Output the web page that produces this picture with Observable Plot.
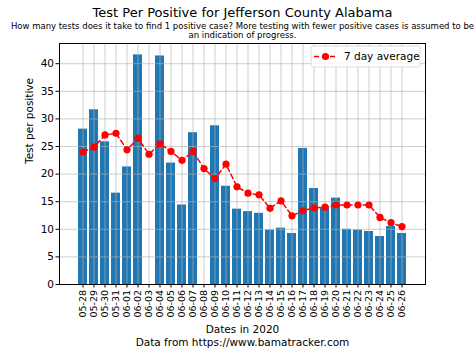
<!DOCTYPE html>
<html>
<head>
<meta charset="utf-8">
<script src="https://cdn.jsdelivr.net/npm/d3@7"></script>
<script src="https://cdn.jsdelivr.net/npm/@observablehq/plot@0.6"></script>
<style>
  html, body { margin: 0; padding: 0; background: #fff; }
  #chart svg { display: block; }
</style>
</head>
<body>
<div id="chart"></div>
<script>
const titleText = "Test Per Positive for Jefferson County Alabama";
const subtitleText = "How many tests does it take to find 1 positive case? More testing with fewer positive cases is assumed to be\nan indication of progress.";
const xLabel = "Dates in 2020";
const yLabel = "Test per positive";
const captionText = "Data from https://www.bamatracker.com";
const legendLabel = "7 day average";

const dates = ["05-28","05-29","05-30","05-31","06-01","06-02","06-03","06-04","06-05","06-06",
  "06-07","06-08","06-09","06-10","06-11","06-12","06-13","06-14","06-15","06-16",
  "06-17","06-18","06-19","06-20","06-21","06-22","06-23","06-24","06-25","06-26"];
const testsPerPositive = [28.15, 31.65, 25.85, 16.55, 21.3, 41.6, null, 41.4, 22.0, 14.4,
  27.5, null, 28.75, 17.8, 13.65, 13.2, 12.9, 9.85, 10.2, 9.25,
  24.65, 17.4, 13.95, 15.65, 10.0, 9.85, 9.6, 8.7, 10.5, 9.25];
const sevenDayAvg = [24.0, 24.9, 27.1, 27.4, 24.4, 26.5, 23.6, 25.5, 24.1, 22.5,
  24.1, 21.0, 19.2, 21.8, 17.7, 16.55, 16.25, 13.8, 15.15, 12.45,
  13.35, 13.9, 14.0, 14.4, 14.4, 14.4, 14.4, 12.15, 11.2, 10.5];
const yTicks = [0, 5, 10, 15, 20, 25, 30, 35, 40];

const rows = dates.map((d, i) => ({date: d, value: testsPerPositive[i], avg: sevenDayAvg[i]}));

const font = "DejaVu Sans, sans-serif";
const chart = Plot.plot({
  width: 474,
  height: 355,
  marginTop: 43,
  marginBottom: 71,
  marginLeft: 59,
  marginRight: 49,
  style: {fontFamily: font, background: "#fff", color: "#000"},
  x: {type: "band", domain: dates, paddingInner: 0.2, paddingOuter: 1.47, label: null},
  y: {domain: [0, 43.66], label: null},
  marks: [
    Plot.barY(rows, {x: "date", y: "value", fill: "#1f77b4"}),
    Plot.gridX(dates, {stroke: "#b0b0b0", strokeOpacity: 0.8, strokeWidth: 0.8}),
    Plot.gridY(yTicks, {stroke: "#b0b0b0", strokeOpacity: 0.8, strokeWidth: 0.8}),
    Plot.line(rows, {x: "date", y: "avg", stroke: "#ff0000", strokeWidth: 1.5, strokeDasharray: "5,3"}),
    Plot.dot(rows, {x: "date", y: "avg", fill: "#ff0000", r: 3.6}),
    Plot.frame({stroke: "#000", strokeWidth: 1}),
    Plot.axisY(yTicks, {tickSize: 3.5, tickPadding: 2, fontSize: 10.5, label: null}),
    Plot.axisX(dates, {tickSize: 3.5, tickPadding: 2, tickRotate: -90, fontSize: 9.5, label: null}),
    Plot.text([titleText], {frameAnchor: "top", lineAnchor: "middle", dy: -30.5, fontSize: 13, fill: "#000"}),
    Plot.text([subtitleText], {frameAnchor: "top", lineAnchor: "middle", dy: -13, fontSize: 8.5, lineHeight: 1.1, fill: "#000"}),
    Plot.text([yLabel], {frameAnchor: "left", dx: -30, rotate: -90, fontSize: 10.5, fill: "#000"}),
    Plot.text([xLabel], {frameAnchor: "bottom", lineAnchor: "middle", dy: 45.5, fontSize: 10.5, fill: "#000"}),
    Plot.text([captionText], {frameAnchor: "bottom", lineAnchor: "middle", dy: 58.5, fontSize: 10.5, fill: "#000"})
  ]
});
document.getElementById("chart").appendChild(chart);

// legend box (upper right)
const svg = d3.select(chart);
const lg = svg.append("g").attr("transform", "translate(311,46)").style("font-family", font);
lg.append("rect").attr("x", 0).attr("y", 0).attr("width", 109).attr("height", 21)
  .attr("rx", 2).attr("fill", "#fff").attr("fill-opacity", 0.85).attr("stroke", "#d0d0d0").attr("stroke-width", 0.8);
lg.append("line").attr("x1", 3).attr("x2", 26).attr("y1", 10.5).attr("y2", 10.5)
  .attr("stroke", "#ff0000").attr("stroke-width", 1.5).attr("stroke-dasharray", "5,3");
lg.append("circle").attr("cx", 14.5).attr("cy", 10.5).attr("r", 3.6).attr("fill", "#ff0000");
lg.append("text").attr("x", 33).attr("y", 10.5).attr("dy", "0.35em").attr("font-size", 10.5)
  .attr("text-anchor", "start").attr("fill", "#000").text(legendLabel);
</script>
</body>
</html>
